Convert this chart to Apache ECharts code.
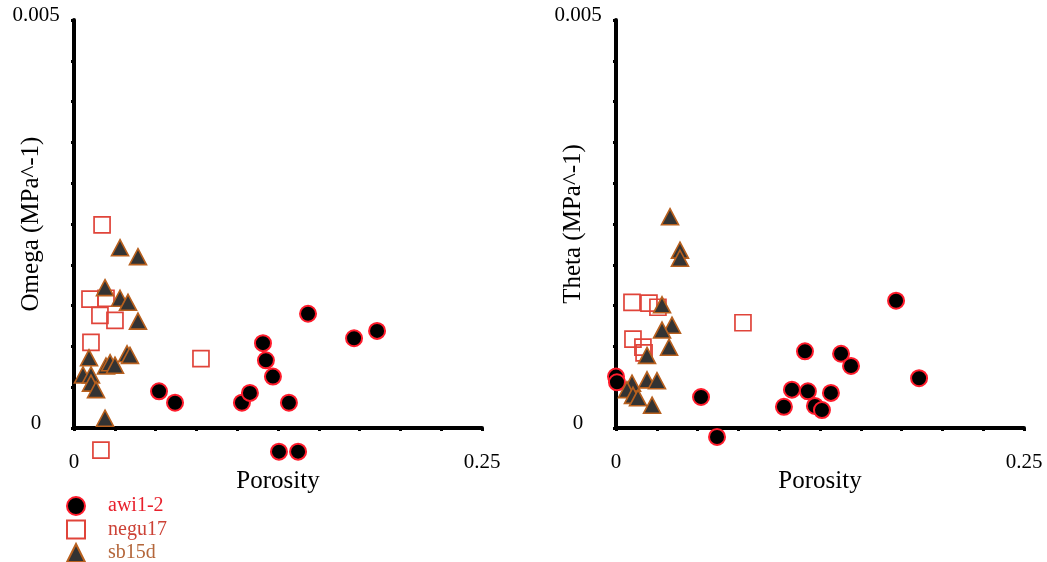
<!DOCTYPE html>
<html>
<head>
<meta charset="utf-8">
<script src="https://cdn.jsdelivr.net/npm/echarts@6/dist/echarts.min.js"></script>
<style>
html,body{margin:0;padding:0;background:#fff;}
#chart{width:1047px;height:562px;}
</style>
</head>
<body>
<div id="chart"></div>
<script>
// ---- data ----
const seriesNames = ['awi1-2', 'negu17', 'sb15d'];
const xTickLabels = ['0', '0.25'];
const yTickLabels = ['0', '0.005'];
const xTitle = 'Porosity';
const yTitles = ['Omega (MPa^-1)', 'Theta (MPa^-1)'];

// Omega panel [porosity, omega]
const omegaAwi = [
  [0.0521, 0.00045], [0.0619, 0.00031], [0.1029, 0.00031], [0.1078, 0.00043],
  [0.1158, 0.00104], [0.1176, 0.00083], [0.1219, 0.00063], [0.1317, 0.00031],
  [0.1434, 0.00140], [0.1716, 0.00110], [0.1857, 0.00119], [0.1256, -0.00029],
  [0.1373, -0.00029]
];
const omegaNegu = [
  [0.0172, 0.00249], [0.0098, 0.00158], [0.0196, 0.00159], [0.0159, 0.00138],
  [0.0251, 0.00132], [0.0104, 0.00105], [0.0778, 0.00085], [0.0165, -0.00027]
];
const omegaSb = [
  [0.0282, 0.00221], [0.0392, 0.00210], [0.0190, 0.00172], [0.0282, 0.00159],
  [0.0331, 0.00154], [0.0392, 0.00131], [0.0092, 0.00086], [0.0325, 0.00091],
  [0.0343, 0.00089], [0.0196, 0.00076], [0.0221, 0.00080], [0.0251, 0.00077],
  [0.0055, 0.00065], [0.0104, 0.00065], [0.0104, 0.00055], [0.0135, 0.00047],
  [0.0190, 0.00012]
];
// Theta panel [porosity, theta]
const thetaAwi = [
  [0.0000, 0.00063], [0.0006, 0.00056], [0.0521, 0.00038], [0.0619, -0.00011],
  [0.1029, 0.00026], [0.1078, 0.00047], [0.1176, 0.00045], [0.1219, 0.00027],
  [0.1262, 0.00022], [0.1317, 0.00043], [0.1158, 0.00094], [0.1379, 0.00091],
  [0.1440, 0.00076], [0.1716, 0.00156], [0.1857, 0.00061]
];
const thetaNegu = [
  [0.0098, 0.00154], [0.0202, 0.00153], [0.0257, 0.00148], [0.0104, 0.00109],
  [0.0165, 0.00099], [0.0172, 0.00092], [0.0778, 0.00129]
];
const thetaSb = [
  [0.0331, 0.00259], [0.0392, 0.00218], [0.0392, 0.00208], [0.0282, 0.00151],
  [0.0343, 0.00126], [0.0282, 0.00120], [0.0325, 0.00099], [0.0190, 0.00089],
  [0.0190, 0.00059], [0.0251, 0.00058], [0.0098, 0.00055], [0.0067, 0.00047],
  [0.0104, 0.00040], [0.0135, 0.00037], [0.0221, 0.00028]
];

// ---- styling / options ----
const FONT = '"Liberation Serif", "Times New Roman", serif';
const styles = {
  'awi1-2': { symbol: 'circle', symbolSize: 16, itemStyle: { color: '#000', borderColor: '#ff1c2c', borderWidth: 2, opacity: 1 }, text: '#e8202c' },
  'negu17': { symbol: 'rect', symbolSize: 16, itemStyle: { color: 'rgba(255,255,255,0)', borderColor: '#e0443a', borderWidth: 1.7, opacity: 1 }, text: '#cc4236' },
  'sb15d': { symbol: 'triangle', symbolSize: [17, 16], itemStyle: { color: '#333333', borderColor: '#b8601e', borderWidth: 1.6, opacity: 1 }, text: '#b4663a' }
};

function xAxis(idx) {
  return {
    gridIndex: idx, type: 'value', min: 0, max: 0.25, interval: 0.025,
    name: xTitle, nameLocation: 'middle', nameGap: 41, nameMoveOverlap: false,
    nameTextStyle: { fontFamily: FONT, fontSize: 25, color: '#000' },
    axisLine: { show: true, onZero: false, lineStyle: { color: '#000', width: 4 } },
    axisTick: { show: true, length: 3, lineStyle: { color: '#000', width: 3 } },
    splitLine: { show: false },
    axisLabel: {
      margin: 24, fontFamily: FONT, fontSize: 21, color: '#000', showMinLabel: true, showMaxLabel: true,
      formatter: function (v) {
        if (Math.abs(v) < 1e-9) return xTickLabels[0];
        if (Math.abs(v - 0.25) < 1e-9) return xTickLabels[1];
        return '';
      }
    }
  };
}
function yAxis(idx) {
  return {
    gridIndex: idx, type: 'value', min: 0, max: 0.005, interval: 0.0005,
    name: yTitles[idx], nameLocation: 'middle', nameGap: 30, nameRotate: 90, nameMoveOverlap: false,
    nameTextStyle: { fontFamily: FONT, fontSize: 25, color: '#000' },
    axisLine: { show: true, onZero: false, lineStyle: { color: '#000', width: 4 } },
    axisTick: { show: true, length: 3, lineStyle: { color: '#000', width: 3 } },
    splitLine: { show: false },
    axisLabel: {
      margin: 38, align: 'center', verticalAlign: 'bottom', lineHeight: 10,
      fontFamily: FONT, fontSize: 21, color: '#000',
      showMinLabel: true, showMaxLabel: true,
      formatter: function (v) {
        if (Math.abs(v) < 1e-12) return yTickLabels[0];
        if (Math.abs(v - 0.005) < 1e-12) return yTickLabels[1];
        return '';
      }
    }
  };
}
function scatter(name, idx, data) {
  const s = styles[name];
  return {
    name: name, type: 'scatter', xAxisIndex: idx, yAxisIndex: idx, data: data,
    symbol: s.symbol, symbolSize: s.symbolSize, itemStyle: s.itemStyle,
    clip: false, animation: false, emphasis: { disabled: true }
  };
}

const legendTops = [496, 519.5, 543];
const option = {
  backgroundColor: '#fff',
  animation: false,
  grid: [
    { left: 74, top: 20, width: 408, height: 408, outerBoundsMode: 'none', containLabel: false },
    { left: 616, top: 20, width: 408, height: 408, outerBoundsMode: 'none', containLabel: false }
  ],
  xAxis: [xAxis(0), xAxis(1)],
  yAxis: [yAxis(0), yAxis(1)],
  legend: seriesNames.map((n, i) => ({
    orient: 'vertical', left: 66, top: legendTops[i], padding: 0, itemWidth: 18, itemHeight: 18,
    selectedMode: false,
    data: [{
      name: n,
      textStyle: { color: styles[n].text, fontFamily: FONT, fontSize: 20, lineHeight: 18, padding: [0, 0, 0, 18] }
    }]
  })),
  series: [
    scatter('awi1-2', 0, omegaAwi),
    scatter('negu17', 0, omegaNegu),
    scatter('sb15d', 0, omegaSb),
    scatter('awi1-2', 1, thetaAwi),
    scatter('negu17', 1, thetaNegu),
    scatter('sb15d', 1, thetaSb)
  ]
};
const chart = echarts.init(document.getElementById('chart'), null, { renderer: 'canvas' });
chart.setOption(option);
</script>
</body>
</html>
